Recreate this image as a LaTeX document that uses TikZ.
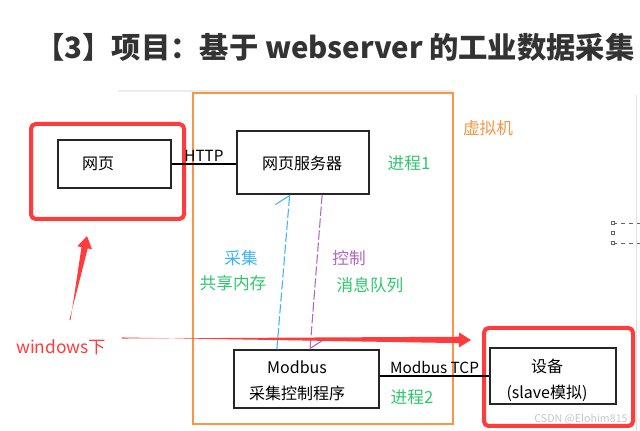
\documentclass[tikz,border=0pt]{standalone}
\usepackage{fontspec}
\setmainfont{Noto Sans CJK SC}
\usetikzlibrary{arrows.meta,positioning,calc}
\definecolor{vmOrange}{HTML}{F79646}
\definecolor{markRed}{HTML}{FF3B3B}
\definecolor{procGreen}{HTML}{2DC86E}
\definecolor{shmBlue}{HTML}{3DB5EE}
\definecolor{mqPurple}{HTML}{B266C4}
\definecolor{titleGray}{HTML}{333333}

\tikzset{
  boxnode/.style={draw=black!85,line width=0.8pt,inner sep=0pt},
  redframe/.style={draw=markRed,line width=3pt,rounded corners=3.5pt,inner sep=0pt},
  vmframe/.style={draw=vmOrange,line width=1.1pt,inner sep=0pt},
  boxtext/.style={font=\fontsize{12}{19.5}\selectfont,align=center,inner sep=0pt},
  linklabel/.style={font=\fontsize{11.5}{14}\selectfont,above,inner sep=1.5pt},
  notelabel/.style={font=\fontsize{12.5}{15}\selectfont,inner sep=0pt},
  ipcline/.style={line width=0.8pt,dash pattern=on 7pt off 2pt,
                  -{Straight Barb[left,length=7.5pt,width=20pt,line width=0.8pt]}}
}

% tapered red pointer, #1 tail, #2 tip
\newcommand{\redpointer}[2]{%
  \fill[markRed] ($(#1)!0.4pt!90:(#2)$)
    -- ($(#2)!9pt!(#1)!2.4pt!90:(#1)$)
    -- ($(#2)!9pt!(#1)!5.6pt!90:(#1)$)
    -- (#2)
    -- ($(#2)!9pt!(#1)!5.6pt!-90:(#1)$)
    -- ($(#2)!9pt!(#1)!2.4pt!-90:(#1)$)
    -- ($(#1)!0.4pt!-90:(#2)$) -- cycle;}

\begin{document}
\begin{tikzpicture}[x=0.75pt,y=-0.75pt]
  \useasboundingbox[fill=white] (0,0) rectangle (640,431);

  % slide edges
  \draw[black!8,line width=1pt] (118,91) -- (452,91);
  \draw[black!12,line width=0.6pt] (636,95) -- (636,431);

  \node[font=\fontsize{22}{26}\selectfont\bfseries,text=titleGray] (title) at (335,47)
    {【3】项目：基于 webserver 的工业数据采集};

  % virtual machine
  \node[vmframe,minimum width=195pt,minimum height=248.25pt] (vm) at (323,258.5) {};
  \node[notelabel,text=vmOrange] (vmlabel) at (488,128) {虚拟机};

  % boxes
  \node[boxnode,minimum width=84.75pt,minimum height=36pt] (web) at (114.5,164) {};
  \node[boxtext] (webtxt) at (98,164) {网页};
  \node[boxnode,minimum width=99pt,minimum height=47.25pt] (server) at (303,162.5) {};
  \node[boxtext] (servertxt) at (302,163) {网页服务器};
  \node[boxnode,minimum width=108.75pt,minimum height=43.5pt] (modbus) at (306.5,379) {};
  \node[boxtext] (modbustxt) at (297,381) {Modbus\\采集控制程序};
  \node[boxnode,minimum width=94.5pt,minimum height=42pt] (dev) at (553,376) {};
  \node[boxtext] (devtxt) at (547,380) {设备\\(slave模拟)};

  % highlight frames
  \node[redframe,minimum width=114.75pt,minimum height=71.25pt] (webframe) at (107.5,171.5) {};
  \node[redframe,minimum width=111.75pt,minimum height=73.5pt] (devframe) at (558.5,377) {};

  % links
  \draw[line width=0.8pt] (web.east) -- (web.east -| server.west)
    node[linklabel,midway] (http) {HTTP};
  \draw[line width=0.8pt] (dev.west -| modbus.east) -- (dev.west)
    node[linklabel,midway] (tcp) {Modbus TCP};

  % process labels
  \node[notelabel,text=procGreen] (proc1) at (409,163) {进程1};
  \node[notelabel,text=procGreen] (proc2) at (412,397) {进程2};

  % ipc
  \draw[ipcline,shmBlue] ($(modbus.north west)!0.297!(modbus.north east)$)
    -- ($(server.south west)!0.40!(server.south east)$);
  \draw[ipcline,mqPurple] ($(server.south west)!0.644!(server.south east)$)
    -- ($(modbus.north west)!0.524!(modbus.north east)$);
  \node[notelabel,text=shmBlue] (shm) at (241,258) {采集};
  \node[notelabel,text=procGreen] (shmtxt) at (233,283) {共享内存};
  \node[notelabel,text=mqPurple] (mq) at (349,258) {控制};
  \node[notelabel,text=procGreen] (mqtxt) at (370,285) {消息队列};

  % windows pointers
  \node[font=\fontsize{13}{15}\selectfont,text=markRed,inner sep=0pt] (win) at (61,347) {windows下};
  \coordinate (uptail) at (70,320);
  \coordinate (uptip) at (87,236);
  \coordinate (rtail) at (122,338);
  \coordinate (rtip) at (471,340);
  \redpointer{uptail}{uptip}
  \redpointer{rtail}{rtip}

  % selection handles
  \draw[black!60,line width=0.4pt,dashed] (613,223) -- (640,223) (613,243) -- (640,243);
  \foreach \hy in {223,233,243}
    \draw[black!60,line width=0.4pt,fill=white] (611.5,\hy-1.5) rectangle (614.5,\hy+1.5);

  \node[font=\fontsize{8}{9}\selectfont,text=black!22,inner sep=0pt] (mark) at (581,419) {CSDN @Elohim815};
\end{tikzpicture}
\end{document}
